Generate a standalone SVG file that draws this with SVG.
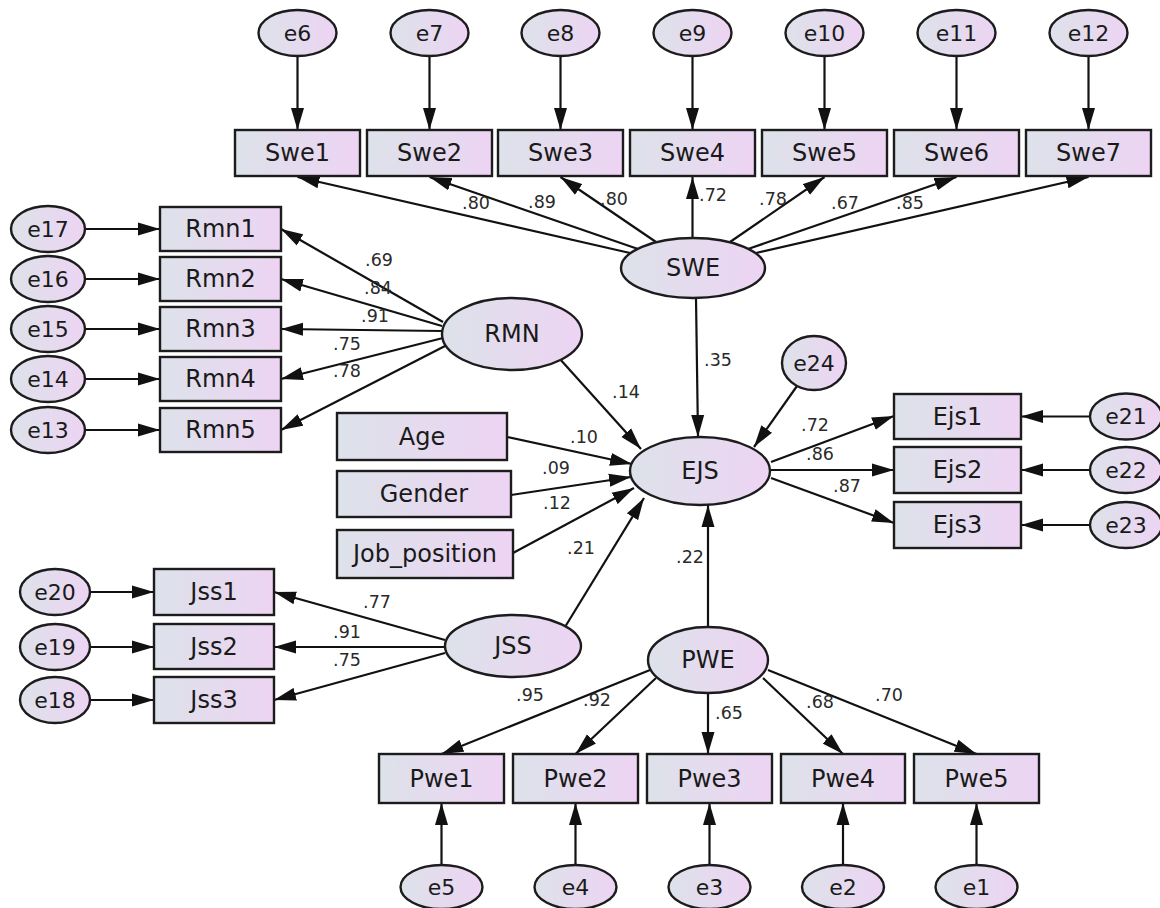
<svg xmlns="http://www.w3.org/2000/svg" width="1160" height="908" viewBox="0 0 1160 908">
<defs>
<linearGradient id="g" x1="0" y1="0" x2="1" y2="0">
<stop offset="0" stop-color="#dde2ea"/>
<stop offset="1" stop-color="#edd4f3"/>
</linearGradient>
<marker id="a" markerUnits="userSpaceOnUse" markerWidth="24" markerHeight="14" refX="22" refY="7" orient="auto">
<path d="M0,0.5 L22,7 L0,13.5 z" fill="#111"/>
</marker>
</defs>
<style>
.b{fill:url(#g);stroke:#1c1c1c;stroke-width:2.4}
.t{font-family:"DejaVu Sans",sans-serif;font-size:24px;fill:#1a1a1a;text-anchor:middle;dominant-baseline:central}
.e{font-size:22px}
.l{font-family:"DejaVu Sans",sans-serif;font-size:17.5px;fill:#2a2a2a;text-anchor:middle;dominant-baseline:central}
.c line{stroke:#111;stroke-width:2.2;marker-end:url(#a)}
</style>
<rect width="1160" height="908" fill="#fff"/>
<g id="connectors" class="c">
<line x1="297.5" y1="56" x2="297.5" y2="130"/>
<line x1="429.5" y1="56" x2="429.5" y2="130"/>
<line x1="560.5" y1="56" x2="560.5" y2="130"/>
<line x1="692.5" y1="56" x2="692.5" y2="130"/>
<line x1="824.5" y1="56" x2="824.5" y2="130"/>
<line x1="956.5" y1="56" x2="956.5" y2="130"/>
<line x1="1088.5" y1="56" x2="1088.5" y2="130"/>
<line x1="630" y1="253" x2="297.5" y2="177"/>
<line x1="638" y1="249" x2="429.5" y2="177"/>
<line x1="656" y1="242" x2="560.5" y2="177"/>
<line x1="692.5" y1="238" x2="692.5" y2="177"/>
<line x1="730" y1="242" x2="824.5" y2="177"/>
<line x1="748" y1="249" x2="956.5" y2="177"/>
<line x1="756" y1="253" x2="1088.5" y2="177"/>
<line x1="696" y1="298" x2="698" y2="437"/>
<line x1="85" y1="229" x2="160" y2="229"/>
<line x1="85" y1="279" x2="160" y2="279"/>
<line x1="85" y1="329" x2="160" y2="329"/>
<line x1="85" y1="379" x2="160" y2="379"/>
<line x1="85" y1="430" x2="160" y2="430"/>
<line x1="443" y1="322" x2="281" y2="229"/>
<line x1="442" y1="326" x2="281" y2="279"/>
<line x1="442" y1="331" x2="281" y2="329"/>
<line x1="443" y1="338" x2="281" y2="379"/>
<line x1="447" y1="345" x2="281" y2="430"/>
<line x1="559" y1="358" x2="641" y2="449"/>
<line x1="507" y1="437" x2="632" y2="464"/>
<line x1="511" y1="495" x2="631" y2="477"/>
<line x1="513" y1="553" x2="634" y2="488"/>
<line x1="565" y1="627" x2="644" y2="498"/>
<line x1="708" y1="627" x2="708" y2="505"/>
<line x1="797" y1="386" x2="754" y2="447"/>
<line x1="771" y1="462" x2="894" y2="416"/>
<line x1="771" y1="470" x2="894" y2="470"/>
<line x1="771" y1="478" x2="894" y2="523"/>
<line x1="1090" y1="416.5" x2="1021" y2="416.5"/>
<line x1="1090" y1="470" x2="1021" y2="470"/>
<line x1="1090" y1="525" x2="1021" y2="525"/>
<line x1="90" y1="592" x2="154" y2="592"/>
<line x1="90" y1="647" x2="154" y2="647"/>
<line x1="90" y1="700" x2="154" y2="700"/>
<line x1="445" y1="640" x2="274" y2="592"/>
<line x1="445" y1="647" x2="274" y2="647"/>
<line x1="445" y1="653" x2="274" y2="700"/>
<line x1="650" y1="670" x2="441.5" y2="754"/>
<line x1="656" y1="678" x2="575.5" y2="754"/>
<line x1="708" y1="693" x2="708" y2="754"/>
<line x1="763" y1="678" x2="843" y2="754"/>
<line x1="768" y1="670" x2="976.5" y2="754"/>
<line x1="441.5" y1="865" x2="441.5" y2="803"/>
<line x1="575.5" y1="865" x2="575.5" y2="803"/>
<line x1="709.5" y1="865" x2="709.5" y2="803"/>
<line x1="843" y1="865" x2="843" y2="803"/>
<line x1="976.5" y1="865" x2="976.5" y2="803"/>
</g>
<g id="labels" class="l">
<text x="476" y="203" class="l">.80</text>
<text x="542" y="202" class="l">.89</text>
<text x="614" y="199" class="l">.80</text>
<text x="713" y="195" class="l">.72</text>
<text x="773" y="199" class="l">.78</text>
<text x="845" y="203" class="l">.67</text>
<text x="910" y="203" class="l">.85</text>
<text x="379" y="260" class="l">.69</text>
<text x="378" y="288" class="l">.84</text>
<text x="375" y="316" class="l">.91</text>
<text x="347" y="344" class="l">.75</text>
<text x="347" y="371" class="l">.78</text>
<text x="626" y="392" class="l">.14</text>
<text x="718" y="360" class="l">.35</text>
<text x="584" y="437" class="l">.10</text>
<text x="556" y="468" class="l">.09</text>
<text x="557" y="503" class="l">.12</text>
<text x="581" y="548" class="l">.21</text>
<text x="690" y="557" class="l">.22</text>
<text x="815" y="425" class="l">.72</text>
<text x="820" y="454" class="l">.86</text>
<text x="847" y="486" class="l">.87</text>
<text x="377" y="602" class="l">.77</text>
<text x="347" y="632" class="l">.91</text>
<text x="347" y="660" class="l">.75</text>
<text x="530" y="695" class="l">.95</text>
<text x="597" y="700" class="l">.92</text>
<text x="729" y="713" class="l">.65</text>
<text x="820" y="702" class="l">.68</text>
<text x="889" y="695" class="l">.70</text>
</g>
<g id="e6"><ellipse class="b" cx="297.5" cy="33" rx="39" ry="23"/><text class="t e" x="297.5" y="33">e6</text></g>
<g id="e7"><ellipse class="b" cx="429.5" cy="33" rx="39" ry="23"/><text class="t e" x="429.5" y="33">e7</text></g>
<g id="e8"><ellipse class="b" cx="560.5" cy="33" rx="39" ry="23"/><text class="t e" x="560.5" y="33">e8</text></g>
<g id="e9"><ellipse class="b" cx="692.5" cy="33" rx="39" ry="23"/><text class="t e" x="692.5" y="33">e9</text></g>
<g id="e10"><ellipse class="b" cx="824.5" cy="33" rx="39" ry="23"/><text class="t e" x="824.5" y="33">e10</text></g>
<g id="e11"><ellipse class="b" cx="956.5" cy="33" rx="39" ry="23"/><text class="t e" x="956.5" y="33">e11</text></g>
<g id="e12"><ellipse class="b" cx="1088.5" cy="33" rx="39" ry="23"/><text class="t e" x="1088.5" y="33">e12</text></g>
<g id="Swe1"><rect class="b" x="235" y="130" width="125" height="46"/><text class="t" x="297.5" y="153">Swe1</text></g>
<g id="Swe2"><rect class="b" x="367" y="130" width="125" height="46"/><text class="t" x="429.5" y="153">Swe2</text></g>
<g id="Swe3"><rect class="b" x="498" y="130" width="125" height="46"/><text class="t" x="560.5" y="153">Swe3</text></g>
<g id="Swe4"><rect class="b" x="630" y="130" width="125" height="46"/><text class="t" x="692.5" y="153">Swe4</text></g>
<g id="Swe5"><rect class="b" x="762" y="130" width="125" height="46"/><text class="t" x="824.5" y="153">Swe5</text></g>
<g id="Swe6"><rect class="b" x="894" y="130" width="125" height="46"/><text class="t" x="956.5" y="153">Swe6</text></g>
<g id="Swe7"><rect class="b" x="1026" y="130" width="125" height="46"/><text class="t" x="1088.5" y="153">Swe7</text></g>
<g id="SWE"><ellipse class="b" cx="693" cy="268" rx="72" ry="30"/><text class="t" x="693" y="268">SWE</text></g>
<g id="e17"><ellipse class="b" cx="48" cy="229" rx="37" ry="23"/><text class="t e" x="48" y="229">e17</text></g>
<g id="e16"><ellipse class="b" cx="48" cy="279" rx="37" ry="23"/><text class="t e" x="48" y="279">e16</text></g>
<g id="e15"><ellipse class="b" cx="48" cy="329" rx="37" ry="23"/><text class="t e" x="48" y="329">e15</text></g>
<g id="e14"><ellipse class="b" cx="48" cy="379" rx="37" ry="23"/><text class="t e" x="48" y="379">e14</text></g>
<g id="e13"><ellipse class="b" cx="48" cy="430" rx="37" ry="23"/><text class="t e" x="48" y="430">e13</text></g>
<g id="Rmn1"><rect class="b" x="160" y="207" width="121" height="44"/><text class="t" x="220.5" y="229">Rmn1</text></g>
<g id="Rmn2"><rect class="b" x="160" y="257" width="121" height="44"/><text class="t" x="220.5" y="279">Rmn2</text></g>
<g id="Rmn3"><rect class="b" x="160" y="307" width="121" height="44"/><text class="t" x="220.5" y="329">Rmn3</text></g>
<g id="Rmn4"><rect class="b" x="160" y="357" width="121" height="44"/><text class="t" x="220.5" y="379">Rmn4</text></g>
<g id="Rmn5"><rect class="b" x="160" y="408" width="121" height="44"/><text class="t" x="220.5" y="430">Rmn5</text></g>
<g id="RMN"><ellipse class="b" cx="512" cy="334" rx="70" ry="36"/><text class="t" x="512" y="334">RMN</text></g>
<g id="Age"><rect class="b" x="337" y="413" width="170" height="47"/><text class="t" x="422" y="437">Age</text></g>
<g id="Gender"><rect class="b" x="337" y="471" width="174" height="46"/><text class="t" x="424" y="494">Gender</text></g>
<g id="Job_position"><rect class="b" x="337" y="530" width="176" height="48"/><text class="t" x="425" y="554">Job_position</text></g>
<g id="EJS"><ellipse class="b" cx="700" cy="471" rx="70" ry="34"/><text class="t" x="700" y="471">EJS</text></g>
<g id="e24"><ellipse class="b" cx="814" cy="363" rx="32" ry="27"/><text class="t e" x="814" y="363">e24</text></g>
<g id="Ejs1"><rect class="b" x="894" y="394" width="127" height="45"/><text class="t" x="957.5" y="416.5">Ejs1</text></g>
<g id="Ejs2"><rect class="b" x="894" y="447" width="127" height="46"/><text class="t" x="957.5" y="470">Ejs2</text></g>
<g id="Ejs3"><rect class="b" x="894" y="502" width="127" height="46"/><text class="t" x="957.5" y="525">Ejs3</text></g>
<g id="e21"><ellipse class="b" cx="1126" cy="416.5" rx="36" ry="23"/><text class="t e" x="1126" y="416.5">e21</text></g>
<g id="e22"><ellipse class="b" cx="1126" cy="470" rx="36" ry="23"/><text class="t e" x="1126" y="470">e22</text></g>
<g id="e23"><ellipse class="b" cx="1126" cy="525" rx="36" ry="23"/><text class="t e" x="1126" y="525">e23</text></g>
<g id="e20"><ellipse class="b" cx="55" cy="592" rx="35" ry="23"/><text class="t e" x="55" y="592">e20</text></g>
<g id="e19"><ellipse class="b" cx="55" cy="647" rx="35" ry="23"/><text class="t e" x="55" y="647">e19</text></g>
<g id="e18"><ellipse class="b" cx="55" cy="700" rx="35" ry="23"/><text class="t e" x="55" y="700">e18</text></g>
<g id="Jss1"><rect class="b" x="154" y="569" width="120" height="46"/><text class="t" x="214" y="592">Jss1</text></g>
<g id="Jss2"><rect class="b" x="154" y="624" width="120" height="45"/><text class="t" x="214" y="646.5">Jss2</text></g>
<g id="Jss3"><rect class="b" x="154" y="677" width="120" height="46"/><text class="t" x="214" y="700">Jss3</text></g>
<g id="JSS"><ellipse class="b" cx="513" cy="646" rx="68" ry="31"/><text class="t" x="513" y="646">JSS</text></g>
<g id="PWE"><ellipse class="b" cx="708" cy="660" rx="60" ry="33"/><text class="t" x="708" y="660">PWE</text></g>
<g id="Pwe1"><rect class="b" x="379" y="754" width="125" height="49"/><text class="t" x="441.5" y="778.5">Pwe1</text></g>
<g id="Pwe2"><rect class="b" x="513" y="754" width="125" height="49"/><text class="t" x="575.5" y="778.5">Pwe2</text></g>
<g id="Pwe3"><rect class="b" x="647" y="754" width="125" height="49"/><text class="t" x="709.5" y="778.5">Pwe3</text></g>
<g id="Pwe4"><rect class="b" x="781" y="754" width="124" height="49"/><text class="t" x="843" y="778.5">Pwe4</text></g>
<g id="Pwe5"><rect class="b" x="914" y="754" width="125" height="49"/><text class="t" x="976.5" y="778.5">Pwe5</text></g>
<g id="e5"><ellipse class="b" cx="441.5" cy="887" rx="41" ry="22"/><text class="t e" x="441.5" y="887">e5</text></g>
<g id="e4"><ellipse class="b" cx="575.5" cy="887" rx="41" ry="22"/><text class="t e" x="575.5" y="887">e4</text></g>
<g id="e3"><ellipse class="b" cx="709.5" cy="887" rx="41" ry="22"/><text class="t e" x="709.5" y="887">e3</text></g>
<g id="e2"><ellipse class="b" cx="843" cy="887" rx="41" ry="22"/><text class="t e" x="843" y="887">e2</text></g>
<g id="e1"><ellipse class="b" cx="976.5" cy="887" rx="41" ry="22"/><text class="t e" x="976.5" y="887">e1</text></g>
</svg>
